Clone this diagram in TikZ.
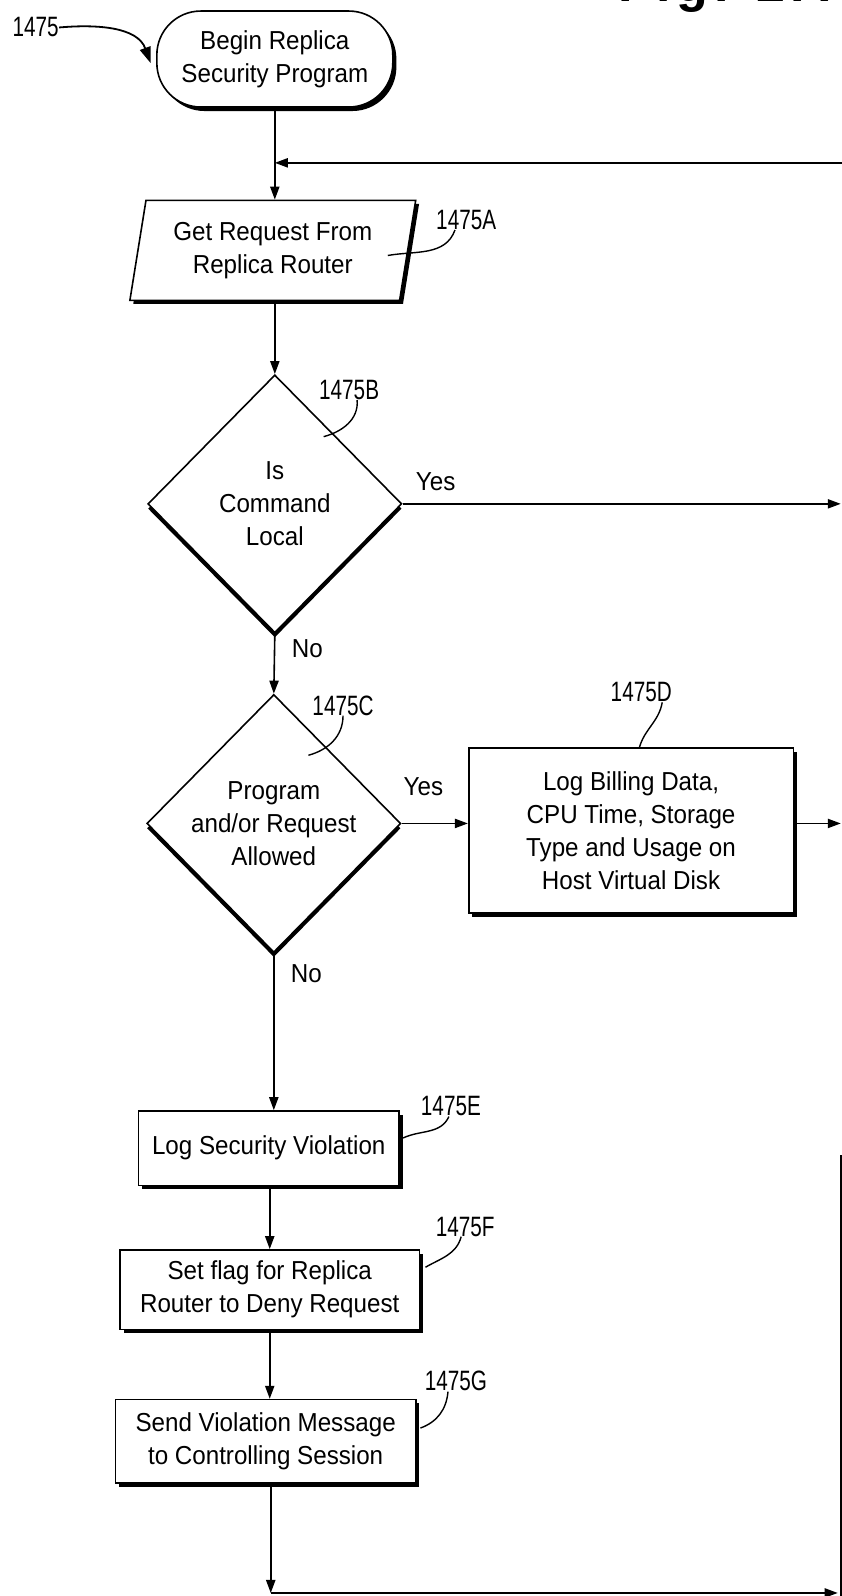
\documentclass[tikz,border=0pt]{standalone}
\usepackage{fontspec}
\setmainfont{Liberation Sans}[FakeStretch=0.93]
\newfontfamily\lblfont{Liberation Sans}[FakeStretch=0.74]
\newfontfamily\figfont{Liberation Sans}[LetterSpace=12]
\usetikzlibrary{shapes.geometric,shadows,arrows.meta}
\tikzset{
	secline/.style={draw=black,line width=0.8pt},
	flow/.style={secline,-{Triangle[length=6.5pt,width=4.6pt]}},
	lead/.style={draw=black,line width=0.7pt},
	secterm/.style={rectangle,rounded corners=22pt,draw=black,fill=white,line width=0.8pt,minimum width=118pt,minimum height=48pt,align=center,inner sep=0pt,drop shadow={shadow xshift=1.8pt,shadow yshift=-2pt,fill=black,opacity=1}},
	secio/.style={trapezium,trapezium left angle=78,trapezium right angle=102,trapezium stretches=true,draw=black,fill=white,line width=0.8pt,minimum width=143pt,minimum height=50pt,align=center,inner sep=1pt,drop shadow={shadow xshift=1.7pt,shadow yshift=-1.7pt,fill=black,opacity=1}},
	secdec/.style={diamond,draw=black,fill=white,line width=0.8pt,minimum width=127pt,minimum height=129pt,align=center,inner sep=0pt,drop shadow={shadow xshift=0pt,shadow yshift=-2.4pt,fill=black,opacity=1}},
	secbox/.style={rectangle,draw=black,fill=white,line width=0.8pt,align=center,inner sep=0pt,drop shadow={shadow xshift=1.8pt,shadow yshift=-1.8pt,fill=black,opacity=1}},
	seclbl/.style={inner sep=0pt,font=\lblfont\fontsize{14}{16}\selectfont},
	secnote/.style={inner sep=0pt}
}
\begin{document}
\begin{tikzpicture}[x=0.509pt,y=0.509pt,font=\fontsize{13}{16.5}\selectfont]
	\clip (0,0) rectangle (827,-1568);
	\node[anchor=base west,inner sep=0pt,font=\figfont\bfseries\fontsize{26}{26}\selectfont] (figtitle) at (607,-1.5) {Fig. 2A};
	\node[secterm] (begin) at (270,-58) {Begin Replica\\Security Program};
	\node[secio] (getreq) at (268,-246) {Get Request From\\Replica Router};
	\node[secdec] (islocal) at (270,-495) {Is\\Command\\Local};
	\node[secdec] (allowed) at (269,-809) {Program\\and/or Request\\Allowed};
	\node[secbox,minimum width=162.4pt,minimum height=82.5pt] (logbill) at (620,-816) {Log Billing Data,\\CPU Time, Storage\\Type and Usage on\\Host Virtual Disk};
	\node[secbox,minimum width=130.3pt,minimum height=37.2pt] (logsec) at (264,-1128) {Log Security Violation};
	\node[secbox,minimum width=149.6pt,minimum height=39.7pt] (setflag) at (265,-1267) {Set flag for Replica\\Router to Deny Request};
	\node[secbox,minimum width=150.2pt,minimum height=41.7pt] (sendmsg) at (261,-1416) {Send Violation Message\\to Controlling Session};
	\node[seclbl] (lblmain) at (35,-27) {1475};
	\node[seclbl] (lblA) at (458,-216) {1475A};
	\node[seclbl] (lblB) at (343,-383) {1475B};
	\node[seclbl] (lblC) at (337,-693) {1475C};
	\node[seclbl] (lblD) at (630,-680) {1475D};
	\node[seclbl] (lblE) at (443,-1087) {1475E};
	\node[seclbl] (lblF) at (457,-1205) {1475F};
	\node[seclbl] (lblG) at (448,-1357) {1475G};
	\node[secnote] (yesA) at (428,-473) {Yes};
	\node[secnote] (noA) at (302,-637) {No};
	\node[secnote] (yesB) at (416,-773) {Yes};
	\node[secnote] (noB) at (301,-957) {No};
	\coordinate (loopin) at (827,-160);
	\coordinate (outA) at (826,-495);
	\coordinate (outB) at (826,-809);
	\coordinate (botleft) at (266,-1565);
	\coordinate (botright) at (823,-1565);
	\coordinate (rtop) at (826,-1135);
	\coordinate (rbot) at (826,-1568);
	\coordinate (tipmain) at (148,-62);
	\coordinate (ldA) at (381,-251);
	\coordinate (ldB) at (318,-429);
	\coordinate (ldC) at (303,-742);
	\coordinate (ldD) at (628,-735);
	\coordinate (ldE) at (396,-1118);
	\coordinate (ldF) at (418,-1245);
	\coordinate (ldG) at (413,-1403);
	\draw[flow] (begin.south) -- (begin.south |- getreq.north);
	\draw[flow] (loopin) -- (loopin -| begin.south);
	\draw[flow] (islocal.north |- getreq.south) -- (islocal.north);
	\draw[flow] (islocal.east) -- (outA);
	\draw[flow] (islocal.south) -- (allowed.north);
	\draw[flow] (allowed.east) -- (allowed.east -| logbill.west);
	\draw[flow] (logbill.east |- outB) -- (outB);
	\draw[flow] (allowed.south) -- (allowed.south |- logsec.north);
	\draw[flow] (setflag.north |- logsec.south) -- (setflag.north);
	\draw[flow] (setflag.south) -- (setflag.south |- sendmsg.north);
	\draw[flow] (botleft |- sendmsg.south) -- (botleft);
	\draw[flow] (botleft) -- (botright);
	\draw[secline] (rtop) -- (rbot);
	\draw[lead,line width=0.9pt,-{Triangle[length=8pt,width=5.5pt]}] (lblmain.east) to[out=5,in=110] (tipmain);
	\draw[lead] ([xshift=-5.6pt]lblA.south) to[out=-110,in=10] (ldA);
	\draw[lead] ([xshift=4pt]lblB.south) to[out=-85,in=15] (ldB);
	\draw[lead] (lblC.south) to[out=-90,in=15] (ldC);
	\draw[lead] ([xshift=10.5pt]lblD.south) to[out=-100,in=75] (ldD);
	\draw[lead] ([xshift=-1pt]lblE.south) to[out=-115,in=25] (ldE);
	\draw[lead] ([xshift=-2pt]lblF.south) to[out=-105,in=30] (ldF);
	\draw[lead] ([xshift=-4pt]lblG.south) to[out=-95,in=20] (ldG);
\end{tikzpicture}
\end{document}
